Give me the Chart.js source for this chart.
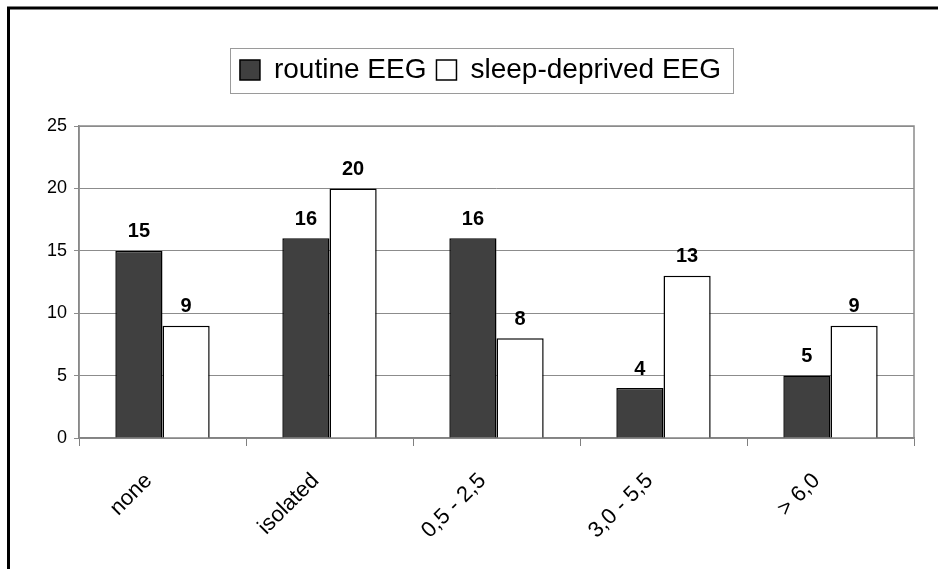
<!DOCTYPE html>
<html>
<head>
<meta charset="utf-8">
<script src="https://cdn.jsdelivr.net/npm/chart.js@4/dist/chart.umd.min.js"></script>
<style>
  html, body { margin: 0; padding: 0; background: #fff; }
  canvas { display: block; }
</style>
</head>
<body>
<canvas id="c" width="938" height="569"></canvas>
<script>
// Epileptiform discharges per recording, routine vs sleep-deprived EEG
const categories = ['none', 'isolated', '0,5 - 2,5', '3,0 - 5,5', '> 6,0'];
const routineEEG = [15, 16, 16, 4, 5];
const sleepDeprivedEEG = [9, 20, 8, 13, 9];
const seriesNames = ['routine EEG', 'sleep-deprived EEG'];
const yTicks = [0, 5, 10, 15, 20, 25];

const FONT = "'Liberation Sans', Arial, Helvetica, sans-serif";
Chart.defaults.font.family = FONT;
Chart.defaults.color = '#000';

// Black frame along the top and left edges of the figure
const outerFrame = {
  id: 'outerFrame',
  beforeDraw(chart) {
    const ctx = chart.ctx;
    ctx.save();
    ctx.fillStyle = '#fff';
    ctx.fillRect(0, 0, chart.width, chart.height);
    ctx.strokeStyle = '#000';
    ctx.lineWidth = 3;
    ctx.beginPath();
    ctx.moveTo(8.5, chart.height);
    ctx.lineTo(8.5, 8);
    ctx.lineTo(chart.width, 8);
    ctx.stroke();
    ctx.restore();
  }
};

// Grey outline around the plotting area
const plotBorder = {
  id: 'plotBorder',
  beforeDatasetsDraw(chart) {
    const { ctx, chartArea: a } = chart;
    ctx.save();
    ctx.strokeStyle = '#8a8a8a';
    ctx.lineWidth = 1.5;
    ctx.strokeRect(a.left, a.top, a.right - a.left, a.bottom - a.top);
    ctx.restore();
  }
};

// Leave room between the legend and the plot
const legendSpacer = {
  id: 'legendSpacer',
  afterInit(chart) {
    const lg = chart.legend;
    if (!lg) return;
    const fit = lg.fit;
    lg.fit = function () {
      fit.call(this);
      this.height = 80;
    };
  }
};

// Thin box drawn around the legend entries
const legendFrame = {
  id: 'legendFrame',
  afterDraw(chart) {
    const lg = chart.legend;
    if (!lg || !lg.legendHitBoxes || !lg.legendHitBoxes.length) return;
    const boxes = lg.legendHitBoxes;
    const left = Math.min(...boxes.map(b => b.left)) - 10;
    const right = Math.max(...boxes.map(b => b.left + b.width)) + 12;
    const cy = boxes[0].top + boxes[0].height / 2;
    const ctx = chart.ctx;
    ctx.save();
    ctx.strokeStyle = '#9a9a9a';
    ctx.lineWidth = 1;
    ctx.strokeRect(Math.round(left) + 0.5, Math.round(cy - 22.5) + 0.5, Math.round(right - left), 45);
    ctx.restore();
  }
};

// Bold value printed above every bar
const valueLabels = {
  id: 'valueLabels',
  afterDatasetsDraw(chart) {
    const ctx = chart.ctx;
    ctx.save();
    ctx.font = 'bold 20px ' + FONT;
    ctx.fillStyle = '#000';
    ctx.textAlign = 'center';
    ctx.textBaseline = 'middle';
    chart.data.datasets.forEach((ds, i) => {
      chart.getDatasetMeta(i).data.forEach((bar, j) => {
        ctx.fillText(String(ds.data[j]), bar.x, bar.y - 19);
      });
    });
    ctx.restore();
  }
};

new Chart(document.getElementById('c'), {
  type: 'bar',
  data: {
    labels: categories,
    datasets: [
      {
        label: seriesNames[0],
        data: routineEEG,
        backgroundColor: '#404040',
        borderColor: '#000',
        borderWidth: 1.5
      },
      {
        label: seriesNames[1],
        data: sleepDeprivedEEG,
        backgroundColor: '#ffffff',
        borderColor: '#000',
        borderWidth: 1.5
      }
    ]
  },
  options: {
    responsive: false,
    animation: false,
    events: [],
    barPercentage: 1,
    categoryPercentage: 0.565,
    layout: { padding: { left: 47, right: 24, top: 46, bottom: 0 } },
    plugins: {
      tooltip: { enabled: false },
      legend: {
        display: true,
        position: 'top',
        align: 'center',
        labels: {
          boxWidth: 20,
          boxHeight: 20,
          padding: 10,
          color: '#000',
          font: { size: 28, family: FONT }
        }
      }
    },
    scales: {
      x: {
        offset: true,
        grid: {
          offset: true,
          drawOnChartArea: false,
          drawTicks: true,
          tickLength: 8,
          color: '#808080'
        },
        border: { color: '#707070', width: 1.5 },
        ticks: {
          autoSkip: false,
          maxRotation: 45,
          minRotation: 45,
          padding: 22,
          labelOffset: -14,
          color: '#000',
          font: { size: 22, family: FONT }
        },
        afterFit(scale) { scale.height = 131; }
      },
      y: {
        min: 0,
        max: 25,
        afterBuildTicks(scale) { scale.ticks = yTicks.map(v => ({ value: v })); },
        grid: {
          color: '#8c8c8c',
          lineWidth: 1,
          drawTicks: true,
          tickLength: 5
        },
        border: { color: '#808080', width: 1.5 },
        ticks: {
          padding: 7,
          color: '#000',
          font: { size: 18, family: FONT }
        },
        afterFit(scale) { scale.width = 32; }
      }
    }
  },
  plugins: [outerFrame, legendSpacer, plotBorder, valueLabels, legendFrame]
});
</script>
</body>
</html>
